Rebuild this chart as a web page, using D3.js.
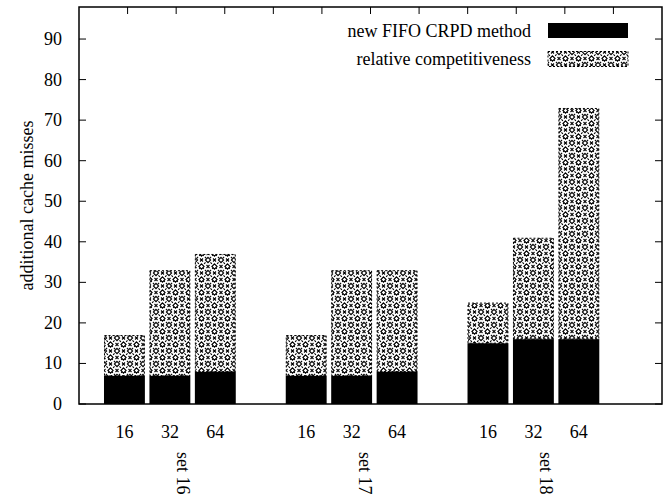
<!DOCTYPE html>
<html>
<head>
<meta charset="utf-8">
<script src="https://cdn.jsdelivr.net/npm/d3@7"></script>
<style>
  body { margin: 0; background: #fff; }
  text { font-family: "Liberation Serif", "Times New Roman", serif; fill: #000; }
</style>
</head>
<body>
<svg id="canvas" width="672" height="502"></svg>
<script>
// data
const sets = ["set 16", "set 17", "set 18"];
const sizes = ["16", "32", "64"];
const fifoMisses = [7, 7, 8, 7, 7, 8, 15, 16, 16];
const relComp = [10, 26, 29, 10, 26, 25, 10, 25, 57];
const yTicks = [0, 10, 20, 30, 40, 50, 60, 70, 80, 90];
const seriesNames = ["new FIFO CRPD method", "relative competitiveness"];

const svg = d3.select("#canvas");
const plotL = 79, plotR = 662, plotT = 7, plotB = 404;

// bar i of set g sits at 4*g + i (gnuplot cluster layout)
const x = d3.scaleLinear().domain([-1, 11.83]).range([plotL, plotR]);
const y = d3.scaleLinear().domain([0, 97.9]).range([plotB, plotT]);
const xTop = d3.scaleLinear().domain([0, 12]).range([plotL, plotR]);

const bars = [];
sets.forEach((s, g) => {
  sizes.forEach((sz, i) => {
    const k = g * 3 + i;
    bars.push({ pos: g * 4 + i, size: sz, a: fifoMisses[k], b: relComp[k] });
  });
});

// hatch pattern (diamonds + crosses on dashed diagonals)
const T = 13, H = T / 2;
const defs = svg.append("defs");
const pat = defs.append("pattern")
  .attr("id", "hatch")
  .attr("patternUnits", "userSpaceOnUse")
  .attr("width", T).attr("height", T);
pat.append("rect").attr("width", T).attr("height", T).attr("fill", "#fff");
const pg = pat.append("g").attr("stroke", "#000").attr("stroke-width", 1.1).attr("fill", "none");
[[0, 0, T, T], [T, 0, 0, T], [-H, H, H, -H], [H, T + H, T + H, H],
 [H, -H, T + H, H], [-H, H, H, T + H]].forEach(l => {
  pg.append("line").attr("x1", l[0]).attr("y1", l[1]).attr("x2", l[2]).attr("y2", l[3])
    .attr("stroke-dasharray", "2,1.5");
});
[[0, 0], [T, 0], [0, T], [T, T], [H, H]].forEach(p => {
  pg.append("path")
    .attr("d", `M${p[0]},${p[1] - 2.6}L${p[0] + 2.6},${p[1]}L${p[0]},${p[1] + 2.6}L${p[0] - 2.6},${p[1]}Z`)
    .attr("fill", "#fff");
});
[[H, 0], [H, T], [0, H], [T, H]].forEach(p => {
  pg.append("path")
    .attr("d", `M${p[0] - 1.5},${p[1] - 1.5}L${p[0] + 1.5},${p[1] + 1.5}M${p[0] + 1.5},${p[1] - 1.5}L${p[0] - 1.5},${p[1] + 1.5}`);
});

const barW = x(0.9) - x(0);

// bottom ticks (hidden behind bars)
svg.append("g").selectAll("line").data(bars).enter().append("line")
  .attr("x1", d => x(d.pos)).attr("x2", d => x(d.pos))
  .attr("y1", plotB).attr("y2", plotB - 6)
  .attr("stroke", "#000");

const bar = svg.append("g").selectAll("g").data(bars).enter().append("g");
bar.append("rect")
  .attr("x", d => x(d.pos) - barW / 2)
  .attr("width", barW)
  .attr("y", d => y(d.a))
  .attr("height", d => y(0) - y(d.a))
  .attr("fill", "#000");
bar.append("rect")
  .attr("x", d => x(d.pos) - barW / 2 + 0.5)
  .attr("width", barW - 1)
  .attr("y", d => y(d.a + d.b) + 0.5)
  .attr("height", d => y(d.a) - y(d.a + d.b) - 0.5)
  .attr("fill", "url(#hatch)")
  .attr("stroke", "#000")
  .attr("stroke-width", 1)
  .attr("stroke-dasharray", "2,2");

// y ticks left and right
const yt = svg.append("g");
yTicks.forEach(v => {
  yt.append("line").attr("x1", plotL).attr("x2", plotL + 7)
    .attr("y1", y(v)).attr("y2", y(v)).attr("stroke", "#000");
  yt.append("line").attr("x1", plotR).attr("x2", plotR - 7)
    .attr("y1", y(v)).attr("y2", y(v)).attr("stroke", "#000");
  yt.append("text").attr("x", 62).attr("y", y(v) + 6)
    .attr("text-anchor", "end").attr("font-size", 18).text(v);
});

// top mirrored ticks
d3.range(1, 12).forEach(k => {
  svg.append("line").attr("x1", xTop(k)).attr("x2", xTop(k))
    .attr("y1", plotT).attr("y2", plotT + 7).attr("stroke", "#000");
});

// x tick labels
svg.append("g").selectAll("text").data(bars).enter().append("text")
  .attr("x", d => x(d.pos)).attr("y", 438)
  .attr("text-anchor", "middle").attr("font-size", 18)
  .text(d => d.size);

// set labels, rotated
sets.forEach((s, g) => {
  const cx = x(g * 4 + 1) + 7;
  svg.append("text")
    .attr("transform", `translate(${cx},452) rotate(90)`)
    .attr("font-size", 18).text(s);
});

// frame
svg.append("rect").attr("x", plotL).attr("y", plotT)
  .attr("width", plotR - plotL).attr("height", plotB - plotT)
  .attr("fill", "none").attr("stroke", "#000").attr("stroke-width", 1.5);

// y label
svg.append("text")
  .attr("transform", `translate(33,${(plotT + plotB) / 2}) rotate(-90)`)
  .attr("text-anchor", "middle").attr("font-size", 18)
  .text("additional cache misses");

// legend
const legY = [30.5, 59];
seriesNames.forEach((n, i) => {
  svg.append("text").attr("x", 531).attr("y", legY[i] + 6)
    .attr("text-anchor", "end").attr("font-size", 18).text(n);
  const r = svg.append("rect").attr("x", 548).attr("y", legY[i] - 7.5)
    .attr("width", 80).attr("height", 15);
  if (i === 0) r.attr("fill", "#000");
  else r.attr("fill", "url(#hatch)").attr("stroke", "#000").attr("stroke-dasharray", "2,2");
});
</script>
</body>
</html>
